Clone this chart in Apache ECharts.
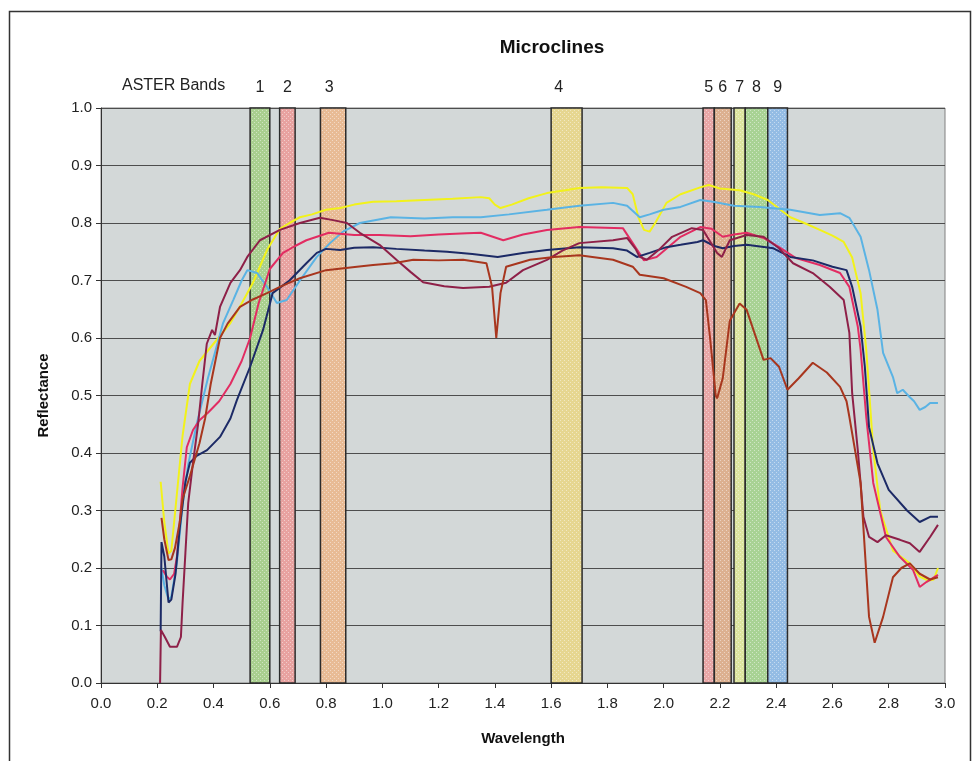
<!DOCTYPE html>
<html>
<head>
<meta charset="utf-8">
<script src="https://cdn.jsdelivr.net/npm/echarts@6/dist/echarts.min.js"></script>
<style>
  html, body { margin: 0; padding: 0; background: #ffffff; }
  #chart { width: 975px; height: 761px; }
</style>
</head>
<body>
<div id="chart"></div>
<script>
// Spectral reflectance of microcline samples, [wavelength (µm), reflectance]
const yellow = [[0.212,0.35],[0.225,0.28],[0.24,0.225],[0.25,0.23],[0.27,0.33],[0.29,0.43],[0.316,0.52],[0.35,0.56],[0.40,0.59],[0.46,0.626],[0.50,0.66],[0.54,0.696],[0.57,0.73],[0.59,0.753],[0.636,0.79],[0.67,0.80],[0.707,0.81],[0.75,0.815],[0.80,0.823],[0.85,0.826],[0.90,0.832],[0.967,0.837],[1.05,0.838],[1.15,0.84],[1.25,0.842],[1.35,0.845],[1.38,0.843],[1.40,0.832],[1.42,0.826],[1.46,0.832],[1.52,0.843],[1.585,0.852],[1.65,0.857],[1.70,0.861],[1.78,0.862],[1.87,0.861],[1.89,0.85],[1.91,0.81],[1.93,0.788],[1.95,0.785],[1.97,0.80],[2.01,0.835],[2.06,0.85],[2.13,0.862],[2.16,0.866],[2.20,0.86],[2.27,0.857],[2.32,0.85],[2.37,0.84],[2.45,0.81],[2.50,0.80],[2.555,0.788],[2.60,0.778],[2.64,0.767],[2.67,0.74],[2.70,0.678],[2.72,0.58],[2.745,0.405],[2.77,0.30],[2.815,0.23],[2.875,0.208],[2.91,0.185],[2.94,0.178],[2.96,0.18],[2.975,0.20]];

const lightBlue = [[0.215,0.20],[0.225,0.17],[0.24,0.145],[0.25,0.15],[0.27,0.21],[0.29,0.31],[0.31,0.38],[0.34,0.45],[0.38,0.53],[0.434,0.626],[0.47,0.666],[0.50,0.70],[0.52,0.718],[0.555,0.713],[0.59,0.689],[0.625,0.661],[0.66,0.666],[0.707,0.70],[0.767,0.741],[0.814,0.765],[0.86,0.785],[0.92,0.80],[1.03,0.81],[1.15,0.808],[1.25,0.81],[1.35,0.81],[1.45,0.815],[1.585,0.823],[1.70,0.83],[1.82,0.835],[1.87,0.83],[1.915,0.81],[1.95,0.815],[2.0,0.823],[2.06,0.828],[2.13,0.84],[2.175,0.837],[2.25,0.83],[2.34,0.828],[2.45,0.823],[2.555,0.814],[2.627,0.817],[2.66,0.809],[2.70,0.776],[2.73,0.718],[2.76,0.649],[2.78,0.574],[2.815,0.532],[2.83,0.504],[2.85,0.51],[2.875,0.497],[2.89,0.49],[2.91,0.475],[2.93,0.48],[2.947,0.487],[2.975,0.487]];

const crimson = [[0.22,0.196],[0.234,0.185],[0.245,0.18],[0.26,0.19],[0.27,0.22],[0.29,0.34],[0.305,0.41],[0.327,0.44],[0.35,0.457],[0.38,0.47],[0.42,0.49],[0.46,0.52],[0.50,0.56],[0.53,0.60],[0.56,0.66],[0.60,0.72],[0.647,0.748],[0.69,0.76],[0.73,0.77],[0.81,0.783],[0.90,0.779],[0.99,0.779],[1.10,0.777],[1.20,0.78],[1.30,0.782],[1.35,0.783],[1.43,0.77],[1.50,0.78],[1.585,0.788],[1.70,0.793],[1.855,0.791],[1.89,0.765],[1.93,0.735],[1.975,0.741],[2.06,0.776],[2.13,0.793],[2.17,0.79],[2.21,0.776],[2.25,0.78],[2.295,0.783],[2.355,0.774],[2.41,0.758],[2.47,0.739],[2.555,0.727],[2.627,0.713],[2.66,0.689],[2.69,0.62],[2.70,0.58],[2.72,0.463],[2.745,0.348],[2.79,0.254],[2.84,0.219],[2.886,0.197],[2.91,0.167],[2.935,0.176],[2.975,0.188]];

const navy = [[0.212,0.09],[0.215,0.245],[0.225,0.22],[0.24,0.14],[0.25,0.145],[0.265,0.19],[0.28,0.27],[0.30,0.35],[0.316,0.383],[0.34,0.395],[0.377,0.405],[0.423,0.428],[0.46,0.46],[0.483,0.492],[0.53,0.55],[0.576,0.614],[0.61,0.678],[0.67,0.70],[0.73,0.73],[0.767,0.748],[0.80,0.755],[0.85,0.753],[0.90,0.757],[0.967,0.758],[1.05,0.755],[1.15,0.752],[1.23,0.75],[1.32,0.746],[1.41,0.741],[1.50,0.748],[1.585,0.753],[1.70,0.758],[1.82,0.756],[1.87,0.752],[1.905,0.741],[1.95,0.748],[2.01,0.758],[2.06,0.762],[2.12,0.767],[2.14,0.77],[2.18,0.76],[2.21,0.756],[2.25,0.76],[2.295,0.762],[2.39,0.756],[2.45,0.741],[2.53,0.735],[2.60,0.724],[2.65,0.718],[2.67,0.689],[2.70,0.62],[2.715,0.55],[2.73,0.445],[2.76,0.382],[2.80,0.336],[2.865,0.30],[2.91,0.28],[2.947,0.289],[2.975,0.289]];

const maroon = [[0.21,0.0],[0.213,0.092],[0.227,0.08],[0.245,0.063],[0.27,0.063],[0.284,0.08],[0.29,0.14],[0.30,0.226],[0.31,0.313],[0.327,0.383],[0.345,0.45],[0.36,0.52],[0.376,0.59],[0.395,0.614],[0.405,0.605],[0.423,0.654],[0.46,0.696],[0.494,0.718],[0.52,0.741],[0.565,0.77],[0.636,0.788],[0.707,0.80],[0.778,0.809],[0.825,0.805],[0.874,0.80],[0.92,0.783],[0.99,0.762],[1.05,0.736],[1.10,0.715],[1.145,0.697],[1.22,0.69],[1.287,0.687],[1.38,0.689],[1.44,0.696],[1.50,0.718],[1.585,0.736],[1.64,0.752],[1.70,0.765],[1.82,0.77],[1.87,0.774],[1.90,0.755],[1.915,0.741],[1.94,0.736],[1.98,0.752],[2.03,0.776],[2.10,0.791],[2.14,0.788],[2.19,0.748],[2.207,0.741],[2.235,0.77],[2.295,0.779],[2.355,0.776],[2.41,0.756],[2.46,0.73],[2.53,0.713],[2.59,0.689],[2.64,0.666],[2.66,0.609],[2.67,0.504],[2.69,0.405],[2.71,0.289],[2.73,0.254],[2.76,0.245],[2.79,0.257],[2.84,0.249],[2.875,0.243],[2.91,0.228],[2.947,0.254],[2.975,0.275]];

const brown = [[0.215,0.287],[0.225,0.25],[0.24,0.214],[0.25,0.215],[0.263,0.235],[0.28,0.28],[0.29,0.32],[0.316,0.36],[0.35,0.417],[0.37,0.46],[0.39,0.52],[0.423,0.60],[0.45,0.625],[0.494,0.654],[0.54,0.667],[0.59,0.678],[0.636,0.689],[0.707,0.704],[0.80,0.718],[0.91,0.724],[0.967,0.727],[1.04,0.73],[1.11,0.736],[1.20,0.735],[1.287,0.736],[1.37,0.73],[1.39,0.689],[1.405,0.60],[1.42,0.678],[1.44,0.724],[1.525,0.736],[1.61,0.741],[1.70,0.744],[1.76,0.74],[1.82,0.736],[1.89,0.724],[1.915,0.71],[2.0,0.704],[2.08,0.689],[2.13,0.678],[2.15,0.666],[2.165,0.60],[2.185,0.50],[2.19,0.495],[2.21,0.53],[2.235,0.63],[2.27,0.66],[2.295,0.649],[2.355,0.562],[2.38,0.565],[2.41,0.55],[2.44,0.51],[2.48,0.53],[2.53,0.557],[2.58,0.54],[2.627,0.515],[2.65,0.49],[2.66,0.463],[2.70,0.348],[2.73,0.115],[2.75,0.07],[2.78,0.115],[2.815,0.184],[2.845,0.20],[2.875,0.208],[2.91,0.19],[2.947,0.18],[2.975,0.184]];

// ASTER band names and wavelength ranges (µm)
const bandNames = ['1', '2', '3', '4', '5', '6', '7', '8', '9'];
const bandStart = [0.53, 0.635, 0.78, 1.60, 2.14, 2.18, 2.25, 2.29, 2.37];
const bandEnd   = [0.60, 0.69, 0.87, 1.71, 2.18, 2.24, 2.29, 2.37, 2.44];
const bandFill  = ['#a9cf8f', '#e8a2a0', '#e8bb95', '#e6d690', '#e8a6a6', '#dcb090', '#dce4a0', '#a8d294', '#94bce4'];

const xTicks = [0.0, 0.2, 0.4, 0.6, 0.8, 1.0, 1.2, 1.4, 1.6, 1.8, 2.0, 2.2, 2.4, 2.6, 2.8, 3.0];

// Small stippled fill so the band rectangles carry a dotted texture
function stipple(base) {
  const c = document.createElement('canvas');
  c.width = 4; c.height = 4;
  const g = c.getContext('2d');
  g.fillStyle = base;
  g.fillRect(0, 0, 4, 4);
  g.fillStyle = 'rgba(255,255,255,0.45)';
  g.fillRect(0, 0, 1, 1);
  g.fillRect(2, 2, 1, 1);
  return { image: c, repeat: 'repeat' };
}

// label nudges for the wider bands, whose numbers sit slightly left of centre
const labelShift = { '3': -4, '4': -8 };

const bandAreas = bandNames.map((name, i) => [
  {
    name: name,
    xAxis: bandStart[i],
    itemStyle: { color: stipple(bandFill[i]), borderColor: '#2b2b2b', borderWidth: 1.5 },
    label: { offset: [labelShift[name] || 0, 0] }
  },
  { xAxis: bandEnd[i] }
]);

const FONT = 'Liberation Sans, Arial, sans-serif';

function lineSeries(name, data, color) {
  return {
    name: name,
    type: 'line',
    data: data,
    symbol: 'none',
    smooth: false,
    z: 5,
    lineStyle: { color: color, width: 2 },
    emphasis: { disabled: true }
  };
}

const chart = echarts.init(document.getElementById('chart'));
chart.setOption({
  animation: false,
  backgroundColor: '#ffffff',
  title: {
    text: 'Microclines',
    left: 547,
    top: 33,
    textAlign: 'center',
    textStyle: { fontFamily: FONT, fontSize: 19, fontWeight: 'bold', color: '#111' }
  },
  graphic: [
    {
      type: 'rect',
      left: 7, top: 9,
      shape: { width: 961, height: 780 },
      style: { fill: 'none', stroke: '#333', lineWidth: 1.5 },
      silent: true
    },
    {
      type: 'text',
      left: 122, top: 78,
      style: { text: 'ASTER Bands', fontFamily: FONT, fontSize: 16, fill: '#222' },
      silent: true
    }
  ],
  grid: {
    left: 101, top: 108, right: 30, bottom: 78,
    show: true,
    backgroundColor: '#d3d8d8',
    borderColor: '#808080',
    borderWidth: 1
  },
  xAxis: {
    type: 'value',
    min: 0, max: 3, interval: 0.2,
    name: 'Wavelength',
    nameLocation: 'middle',
    nameGap: 48,
    nameTextStyle: { fontFamily: FONT, fontSize: 15, fontWeight: 'bold', color: '#111' },
    axisLine: { show: true, lineStyle: { color: '#333', width: 1 } },
    axisTick: { show: true, length: 5, lineStyle: { color: '#333' } },
    axisLabel: {
      fontFamily: FONT, fontSize: 15, color: '#222', margin: 13,
      formatter: v => xTicks.includes(Math.round(v * 10) / 10) ? v.toFixed(1) : ''
    },
    splitLine: { show: false }
  },
  yAxis: {
    type: 'value',
    min: 0, max: 1, interval: 0.1,
    name: 'Reflectance',
    nameLocation: 'middle',
    nameGap: 50,
    nameRotate: 90,
    nameTextStyle: { fontFamily: FONT, fontSize: 15, fontWeight: 'bold', color: '#111' },
    axisLine: { show: true, lineStyle: { color: '#333', width: 1 } },
    axisTick: { show: true, length: 5, lineStyle: { color: '#333' } },
    axisLabel: { fontFamily: FONT, fontSize: 15, color: '#222', margin: 9, formatter: v => v.toFixed(1) },
    splitLine: { show: true, lineStyle: { color: '#4d4d4d', width: 1.2 } }
  },
  series: [
    {
      name: 'ASTER bands',
      type: 'line',
      data: [],
      z: 1,
      markArea: {
        silent: true,
        label: {
          show: true,
          position: 'top',
          distance: 12,
          fontFamily: FONT,
          fontSize: 16,
          color: '#222'
        },
        data: bandAreas
      }
    },
    lineSeries('Microcline A', yellow, '#f2f21a'),
    lineSeries('Microcline B', lightBlue, '#5ab3e4'),
    lineSeries('Microcline C', crimson, '#e22c62'),
    lineSeries('Microcline D', navy, '#1c2a66'),
    lineSeries('Microcline E', maroon, '#8e2048'),
    lineSeries('Microcline F', brown, '#a8361e')
  ]
});
</script>
</body>
</html>
